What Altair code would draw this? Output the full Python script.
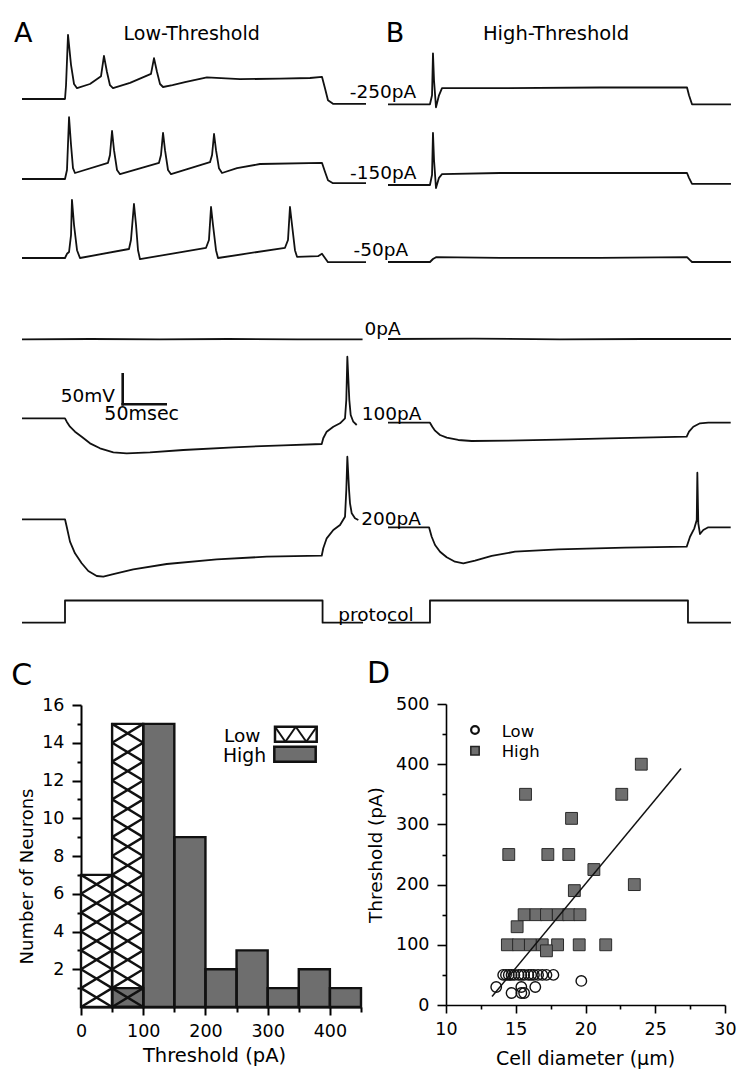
import altair as alt
import pandas as pd

# ======================= DATA =======================
# Panels A / B : membrane potential traces
# time in ms from sweep start, potential in mV relative to the pre-step baseline
a_m250_t = [0, 50, 51.2, 53.5, 57, 60.5, 64, 79, 91.9, 95.3, 98.8, 102.3, 105.8, 125.6, 150, 153.5, 157, 160.5, 164, 175, 189.5, 215, 253.5, 300, 334.9, 348.8, 352.3, 355.8, 361.6, 400]
a_m250_v = [0, 0, 23, 107, 57, 25, 18, 25, 38, 72, 45, 23, 18, 27, 42, 68, 45, 25, 20, 23, 28, 36, 33, 34, 35, 37, 18, -2, -8, -8]
a_m150_t = [0, 50, 52.3, 54.7, 57, 59.3, 61.6, 100, 102.3, 104.7, 107, 110.5, 114, 159.3, 161.6, 164, 166.3, 169.8, 173.3, 218.6, 221, 223.3, 225.6, 229, 232.6, 250, 276.7, 348.8, 352.3, 355.8, 361.6, 400]
a_m150_v = [0, 0, 15, 103, 57, 18, 10, 27, 40, 80, 48, 15, 8, 27, 40, 77, 48, 15, 8, 28, 40, 75, 48, 18, 10, 18, 25, 27, 12, -2, -7, -7]
a_m50_t = [0, 50, 52.3, 54.7, 57, 58.1, 60.5, 64, 67.4, 124.4, 126.7, 130.2, 132.6, 134.9, 137.2, 214, 217.4, 219.8, 222.1, 225.6, 227.9, 305.8, 309.3, 311.6, 314, 317.4, 319.8, 344.2, 348.8, 352.3, 355.8, 400]
a_m50_v = [0, 0, 7, 10, 38, 97, 55, 13, 0, 15, 30, 90, 55, 13, -2, 17, 30, 85, 55, 13, 0, 17, 30, 85, 55, 13, 2, 3, 7, 0, -7, -7]
a_0_t = [0, 80, 160, 240, 320, 396]
a_0_v = [0, 0.5, 0, 0.5, 0, 0]
a_100_t = [0, 50, 52, 55.8, 61.6, 69.4, 79.1, 90.7, 106.2, 121.7, 148.8, 187.6, 245.7, 303.8, 348.5, 350.3, 354.3, 362, 369.8, 375.6, 377.1, 378.3, 380.6, 382.2, 385.2, 389.2]
a_100_v = [0, 0, -5.7, -14, -22.3, -30.7, -41.7, -50, -56.7, -58.3, -56.7, -52.8, -48.3, -45, -42.8, -33.3, -22.3, -14, -8.3, 0, 30.5, 102.7, 30.5, 5.5, -5.7, -11.2]
a_200_t = [0, 50, 52, 55.8, 61.6, 69.4, 77.1, 86.9, 94.5, 106.2, 129.4, 168.3, 226.4, 284.5, 348.5, 350.3, 354.3, 362, 369.8, 375.6, 377.1, 378.3, 380.3, 381.4, 383.4, 387.2, 391.1]
a_200_v = [0, 0, -12.3, -37.3, -56.7, -73.3, -86.2, -94.5, -95.7, -91.2, -83.3, -74.5, -66.7, -62.3, -60.7, -48.3, -31.7, -17.8, -9.5, 4.3, 48.8, 104.3, 48.8, 26.7, 10, 1.7, -1.2]
a_prot_t = [0, 50, 50, 349.5, 349.5, 396.5]
a_prot_v = [0, 0, 37, 37, 0, 0]

b_m250_t = [0, 48.8, 51.2, 52.3, 53.5, 55.8, 59.3, 62.8, 130.2, 246.5, 347.7, 350, 353.5, 398.8]
b_m250_v = [0, 0, 15, 85, 40, -5, 15, 27, 27, 28, 28, 15, 0, 0]
b_m150_t = [0, 48.8, 51.2, 52.3, 53.5, 55.8, 59.3, 62.8, 130.2, 246.5, 347.7, 350, 353.5, 398.8]
b_m150_v = [0, 0, 17, 87, 42, -5, 12, 18, 20, 20, 20, 12, 2, 2]
b_m50_t = [0, 48.8, 52.3, 55.8, 130.2, 246.5, 347.7, 351.2, 353.5, 398.8]
b_m50_v = [0, 0, 5, 8, 7, 7, 8, 3, 0, 0]
b_0_t = [0, 100, 200, 300, 398.8]
b_0_v = [0, 0.5, -0.5, 0, 0]
b_100_t = [0, 48.8, 51.5, 54.7, 60.5, 68.3, 81.7, 97.3, 139.9, 198, 256.2, 347.3, 350, 355, 362.8, 372.4, 398.5]
b_100_v = [0, 0, -6.7, -13.3, -20.5, -25, -28.8, -30.5, -30, -28.3, -26, -23.3, -15, -6.7, -1, 0, 0]
b_200_t = [0, 47.7, 50.8, 54.7, 60.5, 68.3, 77.9, 87.6, 101.2, 120.6, 147.7, 198, 275.6, 347.3, 351.2, 356.2, 359, 359.7, 360.8, 362.8, 366.6, 372.4, 398.5]
b_200_v = [0, 0, -15.7, -29.5, -40.7, -50, -57.3, -60, -55.7, -47.8, -40.7, -36.7, -34, -32.3, -15.7, -1.7, 12.2, 91, 6.7, -11.2, -4.5, 0, 0]
b_prot_t = [0, 48.8, 48.8, 348.8, 348.8, 398.8]
b_prot_v = [0, 0, 37, 37, 0, 0]

trace_names = ["-250pA", "-150pA", "-50pA", "0pA", "100pA", "200pA", "protocol"]
scale_bar_ms = 50
scale_bar_mv = 50

# Panel C : histogram of thresholds
bin_width = 50
low_bin_start = [0, 50]
low_counts = [7, 15]
high_bin_start = [50, 100, 150, 200, 250, 300, 350, 400]
high_counts = [1, 15, 9, 2, 3, 1, 2, 1]

# Panel D : threshold vs cell diameter
low_diam = [14.1, 14.3, 14.5, 14.7, 14.9, 15.2, 15.4, 15.6, 15.9, 16.1, 16.3, 16.6, 16.9, 17.2, 17.7,
            13.6, 14.7, 15.4, 15.6, 15.4, 16.4, 19.7]
low_thr = [50] * 15 + [30, 20, 20, 20, 30, 30, 40]
high_diam = [24.0, 15.7, 22.6, 19.0, 14.5, 17.3, 18.8, 20.6, 23.5, 19.2,
             15.6, 16.45, 17.2, 18.05, 18.8, 19.6, 15.1,
             14.4, 15.2, 16.05, 16.9, 18.0, 19.55, 21.45, 17.2]
high_thr = [400, 350, 350, 310, 250, 250, 250, 225, 200, 190,
            150, 150, 150, 150, 150, 150, 130,
            100, 100, 100, 100, 100, 100, 100, 90]
fit_diam = [13.3, 26.85]
fit_thr = [14, 393]

# ======================= LAYOUT =======================
W, H = 734, 1072
M = 8  # page margin
PX_MS, PX_MV = 0.86, 0.6
FONT = "DejaVu Sans"
GRAY = "#6e6e6e"
INK = "#111111"

trace_x_start = {"A": 22, "B": 388}
trace_baseline = {
    "A": {"-250pA": 99, "-150pA": 179, "-50pA": 258, "0pA": 339.3, "100pA": 418.3, "200pA": 519.3, "protocol": 622.7},
    "B": {"-250pA": 104.3, "-150pA": 185, "-50pA": 262, "0pA": 339, "100pA": 422.7, "200pA": 527.3, "protocol": 622.7},
}
series = {
    "A": [(a_m250_t, a_m250_v), (a_m150_t, a_m150_v), (a_m50_t, a_m50_v), (a_0_t, a_0_v),
          (a_100_t, a_100_v), (a_200_t, a_200_v), (a_prot_t, a_prot_v)],
    "B": [(b_m250_t, b_m250_v), (b_m150_t, b_m150_v), (b_m50_t, b_m50_v), (b_0_t, b_0_v),
          (b_100_t, b_100_v), (b_200_t, b_200_v), (b_prot_t, b_prot_v)],
}

rows = []
for panel in ["A", "B"]:
    for name, (ts, vs) in zip(trace_names, series[panel]):
        t_off = (trace_x_start[panel] - M) / PX_MS
        v_off = (H + M - trace_baseline[panel][name]) / PX_MV
        for i, (t, v) in enumerate(zip(ts, vs)):
            rows.append({"key": panel + name, "idx": i, "t": t + t_off, "v": v + v_off})
traces = pd.DataFrame(rows)

sx_tr = alt.Scale(domain=[0, W / PX_MS], range=[0, W], nice=False, zero=False)
sy_tr = alt.Scale(domain=[0, H / PX_MV], range=[H, 0], nice=False, zero=False)

trace_layer = alt.Chart(traces).mark_line(color=INK, strokeWidth=1.8, strokeJoin="round").encode(
    x=alt.X("t:Q", scale=sx_tr, axis=None),
    y=alt.Y("v:Q", scale=sy_tr, axis=None),
    detail="key:N",
    order="idx:Q",
)

sb_t0 = (122.7 - M) / PX_MS
sb_v0 = (H + M - 404.3) / PX_MV
scalebar = pd.DataFrame({
    "t0": [sb_t0, sb_t0], "t1": [sb_t0 + scale_bar_ms, sb_t0],
    "v0": [sb_v0, sb_v0], "v1": [sb_v0, sb_v0 + scale_bar_mv],
})
scalebar_layer = alt.Chart(scalebar).mark_rule(color=INK, strokeWidth=2.6, strokeCap="square").encode(
    x=alt.X("t0:Q", scale=sx_tr, axis=None), x2="t1:Q",
    y=alt.Y("v0:Q", scale=sy_tr, axis=None), y2="v1:Q",
)

# ---------- Panel C ----------
sxC = alt.Scale(domain=[0, 450], range=[73, 353], nice=False, zero=False)
syC = alt.Scale(domain=[0, 16], range=[999, 697], nice=False, zero=False)

low_df = pd.DataFrame({"start": low_bin_start, "end": [s + bin_width for s in low_bin_start], "count": low_counts})
high_df = pd.DataFrame({"start": high_bin_start, "end": [s + bin_width for s in high_bin_start], "count": high_counts})
all_df = pd.concat([high_df, low_df], ignore_index=True)

hatch_rows = []
for s, c in zip(low_bin_start, low_counts):
    for k in range(c):
        hatch_rows.append({"x0": s, "x1": s + bin_width, "y0": k, "y1": k + 1})
        hatch_rows.append({"x0": s, "x1": s + bin_width, "y0": k + 1, "y1": k})
hatch_df = pd.DataFrame(hatch_rows)


def bars(df, **mark):
    return alt.Chart(df).mark_rect(**mark).encode(
        x=alt.X("start:Q", scale=sxC, axis=None), x2="end:Q",
        y=alt.Y("count:Q", scale=syC, axis=None), y2=alt.datum(0),
    )


low_fill = bars(low_df, fill="white")
high_fill = bars(high_df, fill=GRAY)
hatch = alt.Chart(hatch_df).mark_rule(color=INK, strokeWidth=2.4).encode(
    x=alt.X("x0:Q", scale=sxC, axis=None), x2="x1:Q",
    y=alt.Y("y0:Q", scale=syC, axis=None), y2="y1:Q",
)
outlines = bars(all_df, fillOpacity=0, stroke=INK, strokeWidth=2.4)

axis_common = dict(domainColor="black", tickColor="black", labelColor="black", titleColor="black",
                   labelFont=FONT, titleFont=FONT, titleFontWeight="normal", grid=False,
                   labelFlush=False, labelOverlap=False)

axC = alt.Chart(all_df).mark_point(opacity=0).encode(
    x=alt.X("start:Q", scale=sxC, axis=alt.Axis(
        orient="bottom", offset=-73, values=[0, 100, 200, 300, 400], tickSize=8, tickWidth=2,
        domainWidth=2, labelPadding=7, labelFontSize=17.5, title="Threshold (pA)", titleFontSize=19.5,
        titleX=206, titleY=48, titleAlign="center", titleBaseline="middle", **axis_common)),
    y=alt.Y("count:Q", scale=syC, axis=alt.Axis(
        orient="left", offset=-73, values=[2, 4, 6, 8, 10, 12, 14, 16], tickSize=9, tickWidth=2,
        domainWidth=2, labelPadding=8, labelFontSize=17.5, title="Number of Neurons", titleFontSize=18,
        titleAngle=270, titleX=-54, titleY=868, titleAlign="center", titleBaseline="middle", **axis_common)),
)
axC_minor = alt.Chart(all_df).mark_point(opacity=0).encode(
    x=alt.X("start:Q", scale=sxC, axis=alt.Axis(
        orient="bottom", offset=-73, values=[50, 150, 250, 350, 450], tickSize=5, tickWidth=2,
        domain=False, labels=False, title=None, **axis_common)),
    y=alt.Y("count:Q", scale=syC, axis=alt.Axis(
        orient="left", offset=-73, values=[1, 3, 5, 7, 9, 11, 13, 15], tickSize=4, tickWidth=2,
        domain=False, labels=False, title=None, **axis_common)),
)

# ---------- Panel D ----------
sxD = alt.Scale(domain=[10, 30], range=[438, 717], nice=False, zero=False)
syD = alt.Scale(domain=[0, 500], range=[997, 696], nice=False, zero=False)

low_pts = pd.DataFrame({"diam": low_diam, "thr": low_thr})
high_pts = pd.DataFrame({"diam": high_diam, "thr": high_thr})
fit_df = pd.DataFrame({"diam": fit_diam, "thr": fit_thr})

enc_D = dict(x=alt.X("diam:Q", scale=sxD, axis=None), y=alt.Y("thr:Q", scale=syD, axis=None))
squares = alt.Chart(high_pts).mark_point(shape="square", size=140, fill=GRAY, stroke="#2a2a2a",
                                         strokeWidth=1, fillOpacity=1, opacity=1).encode(**enc_D)
circles = alt.Chart(low_pts).mark_point(shape="circle", size=110, filled=False, stroke=INK,
                                        strokeWidth=1.4, opacity=1).encode(**enc_D)
fit_line = alt.Chart(fit_df).mark_line(color=INK, strokeWidth=1.5).encode(**enc_D)

axD = alt.Chart(low_pts).mark_point(opacity=0).encode(
    x=alt.X("diam:Q", scale=sxD, axis=alt.Axis(
        orient="bottom", offset=-75, values=[10, 15, 20, 25, 30], tickSize=8, tickWidth=1.6,
        domainWidth=1.6, labelPadding=7, labelFontSize=17.5, title="Cell diameter (μm)", titleFontSize=19,
        titleX=577, titleY=53, titleAlign="center", titleBaseline="middle", **axis_common)),
    y=alt.Y("thr:Q", scale=syD, axis=alt.Axis(
        orient="left", offset=-438, values=[0, 100, 200, 300, 400, 500], tickSize=9, tickWidth=1.6,
        domainWidth=1.6, labelPadding=8, labelFontSize=17.5, title="Threshold (pA)", titleFontSize=18.5,
        titleAngle=270, titleX=-71, titleY=846.5, titleAlign="center", titleBaseline="middle", **axis_common)),
)
axD_minor = alt.Chart(low_pts).mark_point(opacity=0).encode(
    x=alt.X("diam:Q", scale=sxD, axis=alt.Axis(
        orient="bottom", offset=-75, values=[12.5, 17.5, 22.5, 27.5], tickSize=4, tickWidth=1.6,
        domain=False, labels=False, title=None, **axis_common)),
    y=alt.Y("thr:Q", scale=syD, axis=alt.Axis(
        orient="left", offset=-438, values=[50, 150, 250, 350, 450], tickSize=4, tickWidth=1.6,
        domain=False, labels=False, title=None, **axis_common)),
)

# ---------- annotations ----------
one = pd.DataFrame({"k": [0]})


def txt(s, x, y, size=19, align="center", baseline="alphabetic"):
    return alt.Chart(one).mark_text(text=s, font=FONT, fontSize=size, align=align,
                                    baseline=baseline, color="black").encode(
        x=alt.value(x), y=alt.value(y))


def seg(x1, y1, x2, y2, w=2.0):
    return alt.Chart(one).mark_rule(color=INK, strokeWidth=w).encode(
        x=alt.value(x1), y=alt.value(y1), x2=alt.value(x2), y2=alt.value(y2))


label_pos = [(375, 90.3), (375.3, 171), (372.8, 247.7), (374.5, 327), (383.5, 412), (383, 517), (368, 613)]
texts = [
    txt("A", 15.3, 34.3, size=27), txt("Low-Threshold", 183.7, 32, size=19),
    txt("B", 387, 33.7, size=27), txt("High-Threshold", 548, 32, size=19.5),
    txt("50mV", 107, 393.7, size=18.5, align="right"), txt("50msec", 133.7, 412, size=19),
    txt("C", 13.7, 677, size=30), txt("D", 370.5, 675, size=30),
    txt("Low", 216, 733.7, size=18.5, align="left"), txt("High", 215, 753.7, size=18.8, align="left"),
    txt("Low", 493.7, 728.7, size=16.5, align="left"), txt("High", 493.7, 748.7, size=16.5, align="left"),
]
for name, (lx, ly) in zip(trace_names, label_pos):
    texts.append(txt(name, lx, ly, size=18.5))

legend_C = [
    alt.Chart(one).mark_rect(fill="white", stroke=INK, strokeWidth=2.5).encode(
        x=alt.value(267), x2=alt.value(308.7), y=alt.value(718.7), y2=alt.value(733.7)),
    seg(267, 718.7, 277.4, 733.7), seg(277.4, 733.7, 287.8, 718.7),
    seg(287.8, 718.7, 298.3, 733.7), seg(298.3, 733.7, 308.7, 718.7),
    alt.Chart(one).mark_rect(fill=GRAY, stroke=INK, strokeWidth=2.5).encode(
        x=alt.value(266.3), x2=alt.value(307.7), y=alt.value(738.7), y2=alt.value(753.7)),
]
legend_D = [
    alt.Chart(one).mark_point(shape="circle", size=60, filled=False, stroke=INK, strokeWidth=2.2,
                              opacity=1).encode(x=alt.value(467), y=alt.value(722)),
    alt.Chart(one).mark_point(shape="square", size=70, fill=GRAY, stroke="#222222", strokeWidth=1.5,
                              fillOpacity=1, opacity=1).encode(x=alt.value(467), y=alt.value(742.7)),
]

layers = ([trace_layer, scalebar_layer, low_fill, high_fill, hatch, outlines, axC, axC_minor,
           squares, circles, fit_line, axD, axD_minor] + legend_C + legend_D + texts)

chart = alt.layer(*layers).resolve_scale(x="independent", y="independent").properties(
    width=W, height=H, autosize=alt.AutoSizeParams(type="none"), padding=0,
).configure_view(stroke="transparent")

chart.save("out.html", embed_options={"renderer": "svg", "actions": False})
